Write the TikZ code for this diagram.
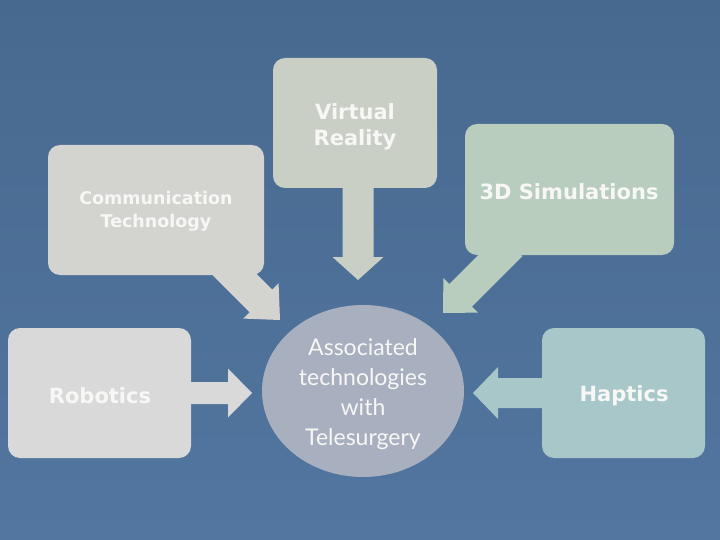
\documentclass[tikz,border=0pt]{standalone}
\usepackage{fontspec}
\setmainfont{DejaVu Sans}
\newfontfamily\hubfont{Lato}
\usetikzlibrary{calc}
\definecolor{bgblue}{HTML}{5276A0}
\definecolor{bgtop}{HTML}{48698F}
\definecolor{commc}{HTML}{D3D3CF}
\definecolor{vrc}{HTML}{C9CFC5}
\definecolor{simc}{HTML}{B8CDBE}
\definecolor{robc}{HTML}{D9D9D9}
\definecolor{hapc}{HTML}{A8C7C8}
\definecolor{hubc}{HTML}{A8B0BF}
\definecolor{txtc}{HTML}{F7F7F5}
\tikzset{
  boxstyle/.style={rounded corners=12pt, inner sep=0pt, text=txtc,
    font=\bfseries\fontsize{21}{26}\selectfont, align=center},
}
% block arrow: #1 start, #2 tip, #3 shaft width, #4 head width, #5 head length, #6 colour
\newcommand\blockarr[6]{%
  \fill[#6] let \p1=($(#2)-(#1)$), \n1={atan2(\y1,\x1)}, \n2={veclen(\x1,\y1)} in
    [shift={(#1)}, rotate=\n1]
    (0,-#3/2) -- ({\n2-#5},-#3/2) -- ({\n2-#5},-#4/2) -- (\n2,0)
    -- ({\n2-#5},#4/2) -- ({\n2-#5},#3/2) -- (0,#3/2) -- cycle;}
\begin{document}
\begin{tikzpicture}[x=1pt,y=-1pt]
\useasboundingbox (0,0) rectangle (720,540);
\shade[top color=bgtop, bottom color=bgblue] (0,0) rectangle (720,540);

% boxes
\fill[commc, rounded corners=12pt] (48,145) rectangle (264,275);
\node[boxstyle, font=\bfseries\fontsize{17.5}{23}\selectfont] (comm) at (156,211) {Communication\\Technology};
\fill[vrc, rounded corners=12pt] (273,58) rectangle (437,188);
\node[boxstyle] (vr) at (355,127) {Virtual\\Reality};
\fill[simc, rounded corners=12pt] (465,124) rectangle (674,255);
\node[boxstyle] (sim) at (569,192) {3D Simulations};
\fill[robc, rounded corners=12pt] (8,328) rectangle (191,458);
\node[boxstyle] (rob) at (100,396) {Robotics};
\fill[hapc, rounded corners=12pt] (542,328) rectangle (705,458);
\node[boxstyle] (hap) at (624,396) {Haptics};

% callout arrows
\coordinate (commS) at (220,260); \coordinate (commT) at (280,320);
\coordinate (vrS) at (358,178);   \coordinate (vrT) at (358,280);
\coordinate (simS) at (511,245);  \coordinate (simT) at (443,313);
\coordinate (robS) at (180,393);  \coordinate (robT) at (252,393);
\coordinate (hapS) at (552,393);  \coordinate (hapT) at (473,393);
\blockarr{commS}{commT}{32}{50}{27}{commc}
\blockarr{vrS}{vrT}{31}{51}{23}{vrc}
\blockarr{simS}{simT}{32}{49}{25}{simc}
\blockarr{robS}{robT}{22}{49}{24}{robc}
\blockarr{hapS}{hapT}{30}{52}{25}{hapc}

% hub
\fill[hubc] (363,391) ellipse [x radius=101, y radius=86];
\node[text=txtc, align=center, font=\hubfont\fontsize{23}{30}\selectfont] (hub) at (363,394)
  {Associated\\technologies\\with\\Telesurgery};
\end{tikzpicture}
\end{document}
